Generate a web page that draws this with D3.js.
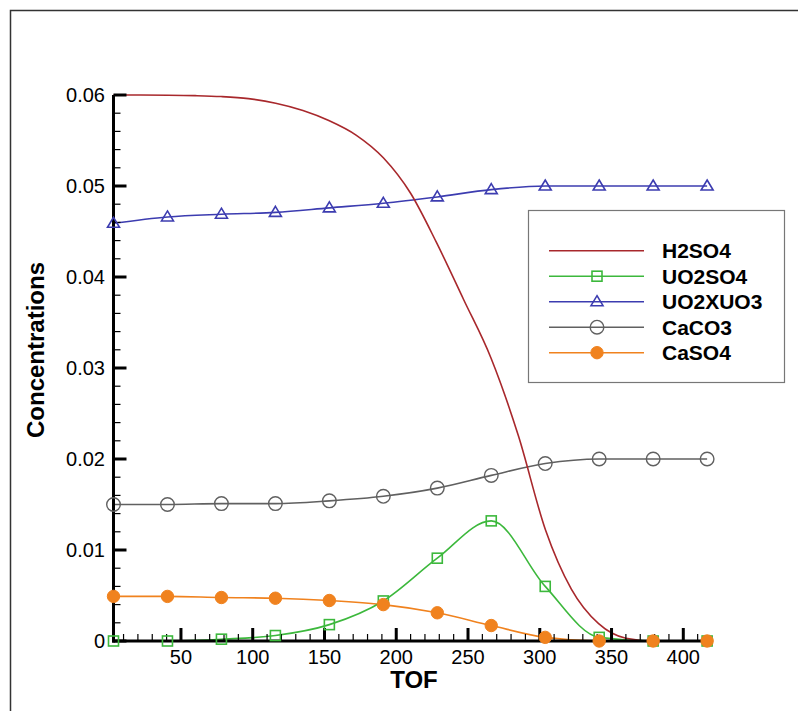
<!DOCTYPE html>
<html>
<head>
<meta charset="utf-8">
<script src="https://cdn.jsdelivr.net/npm/d3@7"></script>
<style>
html,body{margin:0;padding:0;background:#fff;}
svg{display:block;}
text{font-family:"Liberation Sans",Arial,Helvetica,sans-serif;}
</style>
</head>
<body>
<script>
// ---- data ----
const tof = [3, 40.6, 78.2, 115.8, 153.4, 191, 228.6, 266.2, 303.8, 341.4, 379, 416.6];
const uo2so4 = [0, 0, 0.0002, 0.0006, 0.0018, 0.0044, 0.0091, 0.0132, 0.0060, 0.0004, 0, 0];
const uo2xuo3 = [0.0459, 0.0466, 0.0469, 0.0471, 0.0476, 0.0481, 0.0488, 0.0496, 0.0500, 0.0500, 0.0500, 0.0500];
const caco3 = [0.0150, 0.0150, 0.0151, 0.0151, 0.0154, 0.0159, 0.0168, 0.0182, 0.0195, 0.0200, 0.0200, 0.0200];
const caso4 = [0.0049, 0.0049, 0.00478, 0.0047, 0.00445, 0.0040, 0.0031, 0.0017, 0.0004, 0, 0, 0];
// H2SO4 has no markers; read at finer TOF positions
const h2so4Tof = [3, 22, 41, 60, 78, 97, 116, 135, 153, 172, 191, 210, 228, 247, 266, 285, 304, 322, 341, 360, 379, 398, 417];
const h2so4 = [0.0600, 0.0600, 0.05998, 0.05993, 0.05983, 0.0596, 0.0591, 0.0583, 0.0572, 0.0556, 0.0531, 0.0492, 0.0438, 0.0375, 0.0311, 0.0226, 0.0122, 0.0057, 0.0019, 0.0003, 0, 0, 0];
const xTicks = [50, 100, 150, 200, 250, 300, 350, 400];
const yTicks = [0, 0.01, 0.02, 0.03, 0.04, 0.05, 0.06];
const yTickLabels = ["0", "0.01", "0.02", "0.03", "0.04", "0.05", "0.06"];
const seriesNames = ["H2SO4", "UO2SO4", "UO2XUO3", "CaCO3", "CaSO4"];
const xDomain = [3, 420];
const yDomain = [0, 0.06];

const W = 798, H = 711;
const svg = d3.select("body").append("svg").attr("width", W).attr("height", H);

// outer frame
svg.append("path").attr("d", "M10.5,711 L10.5,10.5 L798,10.5")
  .attr("fill", "none").attr("stroke", "#333").attr("stroke-width", 1.5);

const x = d3.scaleLinear().domain(xDomain).range([113.5, 712]);
const y = d3.scaleLinear().domain(yDomain).range([641, 95]);

const colors = {
  "H2SO4": "#a8282c",
  "UO2SO4": "#3cb83c",
  "UO2XUO3": "#3c3cb0",
  "CaCO3": "#606060",
  "CaSO4": "#f0821e"
};

const line = d3.line().x(d => x(d[0])).y(d => y(d[1])).curve(d3.curveMonotoneX);
const zip = (xs, ys) => xs.map((v, i) => [v, ys[i]]);

const data = {
  "H2SO4": zip(h2so4Tof, h2so4),
  "UO2SO4": zip(tof, uo2so4),
  "UO2XUO3": zip(tof, uo2xuo3),
  "CaCO3": zip(tof, caco3),
  "CaSO4": zip(tof, caso4)
};

const plot = svg.append("g");
["CaSO4", "UO2SO4", "CaCO3", "UO2XUO3", "H2SO4"].forEach(name => {
  plot.append("path").datum(data[name]).attr("d", line)
    .attr("fill", "none").attr("stroke", colors[name]).attr("stroke-width", 1.6);
});

function marker(g, name, cx, cy) {
  const c = colors[name];
  if (name === "UO2SO4") {
    g.append("rect").attr("x", cx - 5).attr("y", cy - 5).attr("width", 10).attr("height", 10)
      .attr("fill", "none").attr("stroke", c).attr("stroke-width", 1.6);
  } else if (name === "UO2XUO3") {
    g.append("path").attr("d", `M${cx},${cy - 6} L${cx + 6},${cy + 4} L${cx - 6},${cy + 4} Z`)
      .attr("fill", "none").attr("stroke", c).attr("stroke-width", 1.6);
  } else if (name === "CaCO3") {
    g.append("circle").attr("cx", cx).attr("cy", cy).attr("r", 6.8)
      .attr("fill", "none").attr("stroke", c).attr("stroke-width", 1.4);
  } else if (name === "CaSO4") {
    g.append("circle").attr("cx", cx).attr("cy", cy).attr("r", 6.2)
      .attr("fill", c).attr("stroke", c).attr("stroke-width", 1);
  }
}

// axes
const axes = svg.append("g");
axes.append("line").attr("x1", x(xDomain[0])).attr("x2", x(xDomain[0]))
  .attr("y1", y(0) + 1.5).attr("y2", y(0.06)).attr("stroke", "#000").attr("stroke-width", 3);
axes.append("line").attr("x1", x(xDomain[0]) - 1.5).attr("x2", x(xDomain[1]))
  .attr("y1", y(0)).attr("y2", y(0)).attr("stroke", "#000").attr("stroke-width", 3);

const yMinor = d3.range(0, 0.0601, 0.002);
yMinor.forEach(v => {
  const major = Math.abs(v * 100 - Math.round(v * 100)) < 1e-6;
  axes.append("line").attr("x1", x(xDomain[0])).attr("x2", x(xDomain[0]) + (major ? 13 : 7))
    .attr("y1", y(v)).attr("y2", y(v)).attr("stroke", "#000").attr("stroke-width", major ? 3 : 1.2);
});
yTicks.forEach((v, i) => {
  axes.append("text").attr("x", 105).attr("y", y(v)).attr("dy", "0.36em")
    .attr("text-anchor", "end").attr("font-size", 20).attr("fill", "#000").text(yTickLabels[i]);
});
d3.range(10, 420, 10).forEach(v => {
  const major = v % 50 === 0;
  axes.append("line").attr("x1", x(v)).attr("x2", x(v))
    .attr("y1", y(0)).attr("y2", y(0) - (major ? 13 : 7))
    .attr("stroke", "#000").attr("stroke-width", major ? 3 : 1.2);
});
xTicks.forEach(v => {
  axes.append("text").attr("x", x(v)).attr("y", 664).attr("text-anchor", "middle")
    .attr("font-size", 20).attr("fill", "#000").text(v);
});

const mk = svg.append("g");
["CaCO3", "UO2XUO3", "UO2SO4", "CaSO4"].forEach(name => {
  data[name].forEach(d => marker(mk, name, x(d[0]), y(d[1])));
});

svg.append("text").attr("x", 414).attr("y", 688).attr("text-anchor", "middle")
  .attr("font-size", 24).attr("font-weight", "bold").text("TOF");
svg.append("text").attr("transform", "translate(44,350) rotate(-90)")
  .attr("text-anchor", "middle").attr("font-size", 24).attr("font-weight", "bold").text("Concentrations");

const lg = svg.append("g");
lg.append("rect").attr("x", 528.5).attr("y", 210.5).attr("width", 256).attr("height", 172)
  .attr("fill", "#fff").attr("stroke", "#777").attr("stroke-width", 1.2);
seriesNames.forEach((name, i) => {
  const yy = 250.7 + i * 25.5;
  lg.append("line").attr("x1", 549).attr("x2", 644).attr("y1", yy).attr("y2", yy)
    .attr("stroke", colors[name]).attr("stroke-width", 1.6);
  marker(lg, name, 597, yy);
  lg.append("text").attr("x", 662).attr("y", yy).attr("dy", "0.36em")
    .attr("font-size", 21).attr("font-weight", "bold").attr("fill", "#000").text(name);
});
</script>
</body>
</html>
